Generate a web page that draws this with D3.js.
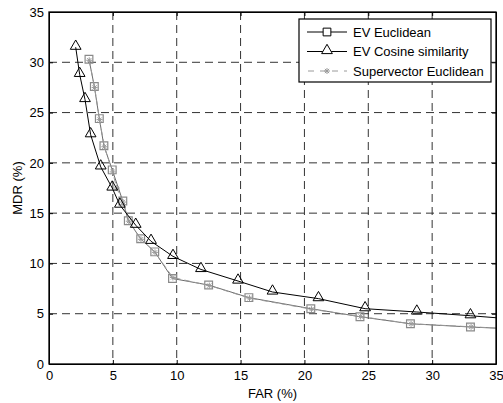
<!DOCTYPE html>
<html>
<head>
<meta charset="utf-8">
<script src="https://cdn.jsdelivr.net/npm/d3@7"></script>
<style>
  body { margin: 0; background: #fff; }
  text { font-family: "Liberation Sans", Arial, Helvetica, sans-serif; }
</style>
</head>
<body>
<script>
// values
const xTicks = [0, 5, 10, 15, 20, 25, 30, 35];
const yTicks = [0, 5, 10, 15, 20, 25, 30, 35];

const eucFar = [3.13, 3.55, 3.94, 4.3, 4.95, 5.78, 6.21, 7.18, 8.28, 9.67, 12.5, 15.65, 20.5, 24.35, 28.3, 33.0, 37];
const eucMdr = [30.3, 27.6, 24.4, 21.7, 19.3, 16.2, 14.25, 12.45, 11.15, 8.5, 7.85, 6.6, 5.5, 4.7, 4.0, 3.68, 3.45];

const cosFar = [2.09, 2.4, 2.82, 3.26, 4.05, 4.95, 5.55, 6.79, 7.99, 9.71, 11.9, 14.8, 17.5, 21.1, 24.75, 28.8, 33.0, 37];
const cosMdr = [31.5, 28.8, 26.3, 22.8, 19.6, 17.5, 15.8, 13.8, 12.2, 10.7, 9.4, 8.25, 7.16, 6.5, 5.5, 5.17, 4.8, 4.4];

const svFar = [3.15, 3.57, 3.96, 4.33, 4.98, 5.3, 5.8, 6.25, 7.2, 8.3, 9.7, 12.55, 15.7, 20.55, 24.4, 28.35, 33.05, 37];
const svMdr = [30.2, 27.5, 24.3, 21.6, 19.1, 17.5, 16.1, 14.2, 12.4, 11.1, 8.6, 7.8, 6.55, 5.45, 4.72, 4.0, 3.7, 3.45];

const seriesNames = ["EV Euclidean", "EV Cosine similarity", "Supervector Euclidean"];

let W = 503, H = 403;
let margin = ({top: 12, right: 7, bottom: 39, left: 49});
let fs = "13px";

let xScale = d3.scaleLinear().domain([0, 35]).range([margin.left, W - margin.right]);
let yScale = d3.scaleLinear().domain([0, 35]).range([H - margin.bottom, margin.top]);

let svg = d3.select("body").append("svg")
  .attr("width", W)
  .attr("height", H);

svg.append("defs").append("clipPath").attr("id", "clip")
  .append("rect")
  .attr("x", margin.left).attr("y", margin.top)
  .attr("width", W - margin.left - margin.right)
  .attr("height", H - margin.top - margin.bottom);

// grid
let grid = svg.append("g").attr("stroke", "#333").attr("stroke-width", 1).attr("stroke-dasharray", "8,5");
grid.selectAll(".gx").data(xTicks.slice(1, -1)).enter().append("line")
  .attr("x1", d => xScale(d)).attr("x2", d => xScale(d))
  .attr("y1", yScale(35)).attr("y2", yScale(0));
grid.selectAll(".gy").data(yTicks.slice(1, -1)).enter().append("line")
  .attr("y1", d => yScale(d)).attr("y2", d => yScale(d))
  .attr("x1", xScale(0)).attr("x2", xScale(35));

// axes, inward ticks
function styleAxis(g) {
  g.selectAll("text").attr("font-size", fs).attr("fill", "#000");
  g.selectAll("line").attr("stroke", "#000");
  g.select(".domain").attr("stroke", "#000");
}
let xAxis = svg.append("g").attr("transform", `translate(0,${yScale(0)})`)
  .call(d3.axisBottom(xScale).tickValues(xTicks).tickSizeInner(-4).tickSizeOuter(0).tickPadding(7));
styleAxis(xAxis);
let xAxisTop = svg.append("g").attr("transform", `translate(0,${yScale(35)})`)
  .call(d3.axisTop(xScale).tickValues(xTicks).tickSizeInner(-4).tickSizeOuter(0).tickFormat(""));
styleAxis(xAxisTop);
let yAxis = svg.append("g").attr("transform", `translate(${xScale(0)},0)`)
  .call(d3.axisLeft(yScale).tickValues(yTicks).tickSizeInner(-4).tickSizeOuter(0).tickPadding(5));
styleAxis(yAxis);
let yAxisRight = svg.append("g").attr("transform", `translate(${xScale(35)},0)`)
  .call(d3.axisRight(yScale).tickValues(yTicks).tickSizeInner(-4).tickSizeOuter(0).tickFormat(""));
styleAxis(yAxisRight);

let line = d3.line().x(d => xScale(d[0])).y(d => yScale(d[1]));
let plot = svg.append("g").attr("clip-path", "url(#clip)");

let eucData = eucFar.map((d, i) => [d, eucMdr[i]]);
let cosData = cosFar.map((d, i) => [d, cosMdr[i]]);
let svData = svFar.map((d, i) => [d, svMdr[i]]);

// marker shapes
let sq = d3.symbol().type(d3.symbolSquare).size(60);
let tri = d3.symbol().type(d3.symbolTriangle).size(50);

function asterisk(g, cx, cy, r, color) {
  let a = g.append("g").attr("stroke", color).attr("stroke-width", 1);
  [0, 45, 90, 135].forEach(ang => {
    let rad = ang * Math.PI / 180;
    a.append("line")
      .attr("x1", cx - r * Math.cos(rad)).attr("y1", cy - r * Math.sin(rad))
      .attr("x2", cx + r * Math.cos(rad)).attr("y2", cy + r * Math.sin(rad));
  });
}

// EV Euclidean
plot.append("path").datum(eucData).attr("d", line)
  .attr("fill", "none").attr("stroke", "#6a6a6a").attr("stroke-width", 1);
plot.selectAll(".sq").data(eucData).enter().append("path")
  .attr("d", sq)
  .attr("transform", d => `translate(${xScale(d[0])},${yScale(d[1])})`)
  .attr("fill", "none").attr("stroke", "#8a8a8a").attr("stroke-width", 1.2);

// Supervector Euclidean
plot.append("path").datum(svData).attr("d", line)
  .attr("fill", "none").attr("stroke", "#9a9a9a").attr("stroke-width", 1).attr("stroke-dasharray", "6,4");
svData.forEach(d => asterisk(plot, xScale(d[0]), yScale(d[1]), 3, "#9a9a9a"));

// EV Cosine similarity
plot.append("path").datum(cosData).attr("d", line)
  .attr("fill", "none").attr("stroke", "#000").attr("stroke-width", 1);
plot.selectAll(".tri").data(cosData).enter().append("path")
  .attr("d", tri)
  .attr("transform", d => `translate(${xScale(d[0])},${yScale(d[1]) - 1})`)
  .attr("fill", "none").attr("stroke", "#000").attr("stroke-width", 1);

// box on top
svg.append("rect")
  .attr("x", xScale(0)).attr("y", yScale(35))
  .attr("width", xScale(35) - xScale(0)).attr("height", yScale(0) - yScale(35))
  .attr("fill", "none").attr("stroke", "#000").attr("stroke-width", 1.3);

// legend
let lg = svg.append("g");
lg.append("rect").attr("x", 299).attr("y", 19).attr("width", 192).attr("height", 63)
  .attr("fill", "#fff").attr("stroke", "#000").attr("stroke-width", 1.2);
let rows = [32, 51.5, 71];
lg.append("line").attr("x1", 307).attr("x2", 347).attr("y1", rows[0]).attr("y2", rows[0]).attr("stroke", "#000");
lg.append("path").attr("d", sq).attr("transform", `translate(327,${rows[0]})`)
  .attr("fill", "#fff").attr("stroke", "#000");
lg.append("line").attr("x1", 307).attr("x2", 347).attr("y1", rows[1]).attr("y2", rows[1]).attr("stroke", "#000");
lg.append("path").attr("d", tri).attr("transform", `translate(327,${rows[1] - 1})`)
  .attr("fill", "#fff").attr("stroke", "#000");
lg.append("line").attr("x1", 307).attr("x2", 347).attr("y1", rows[2]).attr("y2", rows[2])
  .attr("stroke", "#9a9a9a").attr("stroke-dasharray", "6,6").attr("stroke-dashoffset", -1);
asterisk(lg, 327, rows[2], 3, "#9a9a9a");
lg.selectAll(".lt").data(seriesNames).enter().append("text")
  .attr("x", 353).attr("y", (d, i) => rows[i] + 4.5)
  .attr("font-size", fs).attr("fill", "#000")
  .text(d => d);

// axis titles
svg.append("text")
  .attr("x", (xScale(0) + xScale(35)) / 2).attr("y", 398)
  .attr("text-anchor", "middle").attr("font-size", fs)
  .text("FAR (%)");
svg.append("text")
  .attr("transform", `translate(22,${(yScale(0) + yScale(35)) / 2}) rotate(-90)`)
  .attr("text-anchor", "middle").attr("font-size", fs)
  .text("MDR (%)");
</script>
</body>
</html>
